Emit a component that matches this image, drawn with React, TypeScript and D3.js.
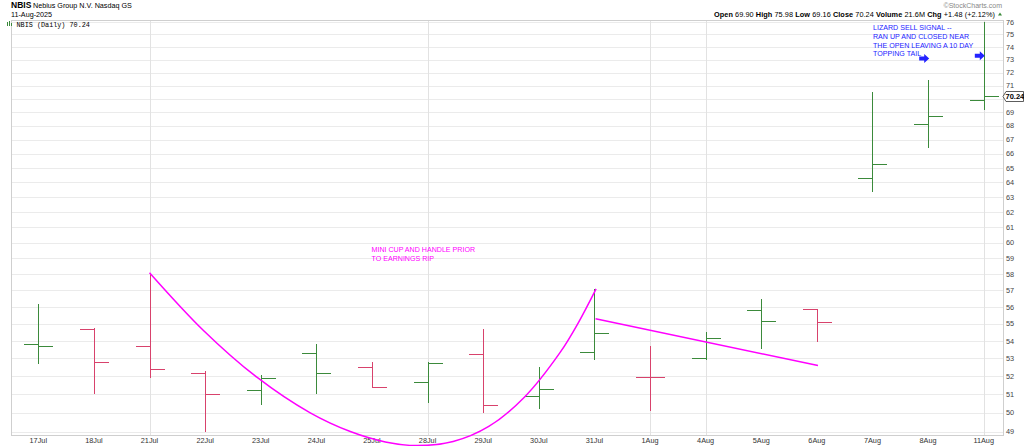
import React from 'react';
import * as d3 from 'd3';

// daily OHLC, NBIS
const dates = ['17Jul', '18Jul', '21Jul', '22Jul', '23Jul', '24Jul', '25Jul', '28Jul', '29Jul', '30Jul', '31Jul', '1Aug', '4Aug', '5Aug', '6Aug', '7Aug', '8Aug', '11Aug'];
const opens = [53.82, 54.68, 53.7, 52.15, 51.21, 53.29, 52.53, 51.66, 53.27, 50.89, 53.35, 51.97, 53.0, 55.83, 55.87, 64.33, 68.16, 69.9];
const highs = [56.17, 54.78, 58.1, 52.29, 52.05, 53.8, 52.78, 52.8, 54.7, 52.51, 57.1, 53.7, 54.5, 56.47, 55.87, 70.49, 71.4, 75.98];
const lows = [52.7, 51.0, 51.88, 48.97, 50.44, 51.0, 51.35, 50.54, 50.0, 50.22, 52.9, 50.11, 52.9, 53.52, 53.94, 63.33, 66.39, 69.16];
const closes = [53.69, 52.78, 52.38, 51.0, 51.88, 52.16, 51.39, 52.71, 50.44, 51.27, 54.44, 51.97, 54.15, 55.15, 55.09, 65.3, 68.73, 70.24];

const priceTicks = d3.range(49, 77);
const weekLines = ['21Jul', '28Jul', '1Aug', '4Aug', '11Aug'];

// annotations, in (bar index, price)
const cupIdx = [2.0, 2.97, 3.93, 4.89, 5.61, 6.24, 6.81, 7.46, 8.1, 8.74, 9.39, 9.71, 10.03];
const cupPrice = [58.1, 54.61, 51.94, 49.99, 49.0, 48.46, 48.27, 48.48, 49.27, 50.84, 53.37, 55.06, 57.1];
const handleIdx = [10.02, 14.02];
const handlePrice = [55.3, 52.59];
const arrowIdx = [16.02, 17.02];
const arrowPrice = [73.1, 73.3];
const lizardText = ['LIZARD SELL SIGNAL --', 'RAN UP AND CLOSED NEAR', 'THE OPEN LEAVING A 10 DAY', 'TOPPING TAIL'];
const cupText = ['MINI CUP AND HANDLE PRIOR', 'TO EARNINGS RIP'];

const W = 1024;
const H = 446;
const plot = { left: 11, right: 1003, top: 20, bottom: 435 };
const font = '"Liberation Sans", Arial, sans-serif';
const green = '#3b8a3b';
const red = '#d8426c';
const magenta = '#ff00ff';
const blue = '#2323ff';

export default function App() {
  const x = d3.scalePoint<string>().domain(dates).range([38.3, 983.7]);
  const xi = d3.scaleLinear().domain([0, dates.length - 1]).range([38.3, 983.7]);
  const y = d3.scaleLog().domain([48.82, 76.17]).range([plot.bottom, plot.top]);

  const cupLine = d3.line<number>()
    .x((d) => xi(d))
    .y((d, i) => y(cupPrice[i]))
    .curve(d3.curveCatmullRom);

  const handleLine = d3.line<number>()
    .x((d) => xi(d))
    .y((d, i) => y(handlePrice[i]));

  const lastClose = closes[closes.length - 1];
  const ly = Math.round(y(lastClose)) + 0.5;

  return (
    <svg width={W} height={H} style={{ position: 'absolute', left: 0, top: 0, background: '#fff' }} fontFamily={font}>
      {/* header */}
      <text x={11} y={8} fontSize={8.5} fontWeight="bold">NBIS</text>
      <text x={33} y={8} fontSize={7.2}>Nebius Group N.V. Nasdaq GS</text>
      <text x={11} y={16.8} fontSize={7.2}>11-Aug-2025</text>
      <text x={1002} y={8} fontSize={7} fill="#888" textAnchor="end">©StockCharts.com</text>
      <text x={714} y={16.6} fontSize={7.3} textLength={281} lengthAdjust="spacing">
        <tspan fontWeight="bold">Open</tspan> 69.90 <tspan fontWeight="bold">High</tspan> 75.98{' '}
        <tspan fontWeight="bold">Low</tspan> 69.16 <tspan fontWeight="bold">Close</tspan> 70.24{' '}
        <tspan fontWeight="bold">Volume</tspan> 21.6M <tspan fontWeight="bold">Chg</tspan> +1.48 (+2.12%)
      </text>
      <path d="M998,15.5 L1002,15.5 L1000,12.5 Z" fill={green} />

      {/* grid */}
      <g shapeRendering="crispEdges">
        {priceTicks.map((p) => (
          <line key={p} x1={plot.left} x2={plot.right} y1={Math.round(y(p)) + 0.5} y2={Math.round(y(p)) + 0.5} stroke="#ebebeb" />
        ))}
        {weekLines.map((d) => (
          <line key={d} x1={Math.round(x(d)!) + 0.5} x2={Math.round(x(d)!) + 0.5} y1={plot.top} y2={plot.bottom} stroke="#e2e2e2" />
        ))}
        <rect x={plot.left + 0.5} y={plot.top + 0.5} width={plot.right - plot.left} height={plot.bottom - plot.top} fill="none" stroke="#cfcfcf" />
      </g>

      {/* y axis labels */}
      {priceTicks.map((p) => (
        <text key={p} x={1006} y={y(p) + 2.6} fontSize={7.3} fill="#444">{p}</text>
      ))}

      {/* x axis labels */}
      {dates.map((d) => (
        <text key={d} x={x(d)} y={442.5} fontSize={7.3} fill="#333" textAnchor="middle">{d}</text>
      ))}

      {/* symbol label */}
      <g fill={green}>
        <rect x={7} y={22} width={1} height={4} />
        <rect x={9} y={21} width={1} height={5} />
        <rect x={11} y={23} width={1} height={3} />
      </g>
      <text x={16.5} y={26.5} fontSize={6.8} fontFamily='"Liberation Mono", "DejaVu Sans Mono", monospace'>NBIS (Daily) 70.24</text>

      {/* OHLC bars */}
      <g shapeRendering="crispEdges">
        {dates.map((d, i) => {
          const up = i === 0 ? true : closes[i] >= closes[i - 1];
          const c = up ? green : red;
          const cx = Math.round(x(d)!) + 0.5;
          return (
            <g key={d} stroke={c} strokeWidth={1}>
              <line x1={cx} x2={cx} y1={y(highs[i])} y2={y(lows[i])} />
              <line x1={cx - 14.5} x2={cx} y1={Math.round(y(opens[i])) + 0.5} y2={Math.round(y(opens[i])) + 0.5} />
              <line x1={cx} x2={cx + 14.5} y1={Math.round(y(closes[i])) + 0.5} y2={Math.round(y(closes[i])) + 0.5} />
            </g>
          );
        })}
      </g>

      {/* annotations */}
      <path d={cupLine(cupIdx) || ''} fill="none" stroke={magenta} strokeWidth={1.5} />
      <path d={handleLine(handleIdx) || ''} fill="none" stroke={magenta} strokeWidth={1.5} />
      {cupText.map((t, i) => (
        <text key={t} x={371.5} y={252 + i * 8.7} fontSize={7.1} fill={magenta}>{t}</text>
      ))}
      {lizardText.map((t, i) => (
        <text key={t} x={873} y={30 + i * 8.8} fontSize={7.1} fill={blue}>{t}</text>
      ))}
      {arrowIdx.map((a, i) => (
        <path
          key={i}
          transform={`translate(${xi(a)},${y(arrowPrice[i])})`}
          d="M0,0 L-5,-4.5 L-5,-2 L-10,-2 L-10,2 L-5,2 L-5,4.5 Z"
          fill={blue}
        />
      ))}

      {/* last price tag */}
      <path
        d={`M${plot.right},${ly} L${plot.right + 3},${ly - 5} L1023.5,${ly - 5} L1023.5,${ly + 5} L${plot.right + 3},${ly + 5} Z`}
        fill="#fff"
        stroke="#333"
        strokeWidth={0.8}
      />
      <text x={1005.5} y={ly + 2.7} fontSize={7.5} fontWeight="bold" fill="#000">{lastClose.toFixed(2)}</text>
    </svg>
  );
}
